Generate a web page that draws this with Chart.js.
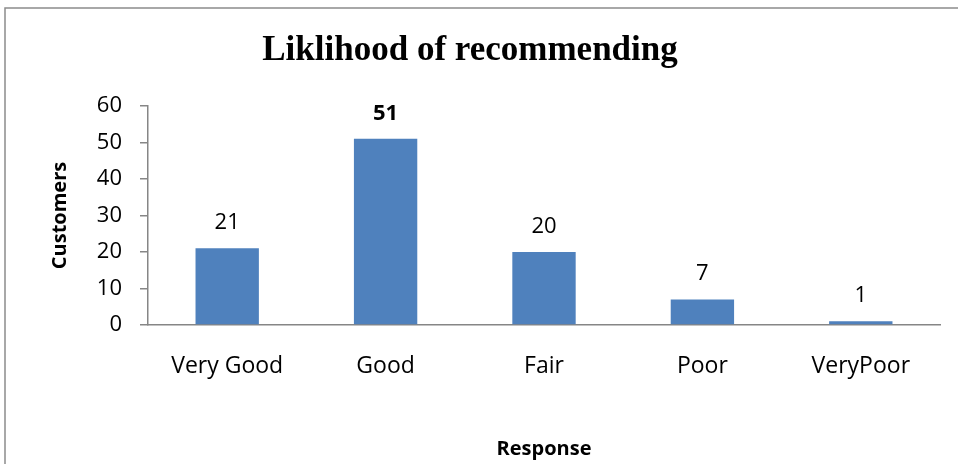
<!DOCTYPE html>
<html>
<head>
<meta charset="utf-8">
<script src="https://cdn.jsdelivr.net/npm/chart.js@4"></script>
<style>
  html, body { margin: 0; padding: 0; background: #fff; }
  canvas { display: block; }
</style>
</head>
<body>
<canvas id="chart" width="958" height="464"></canvas>
<script>
const responses = ["Very Good", "Good", "Fair", "Poor", "VeryPoor"];
const customers = [21, 51, 20, 7, 1];
const yTicks = [0, 10, 20, 30, 40, 50, 60];

Chart.defaults.font.family = "'Open Sans', 'Noto Sans', sans-serif";
Chart.defaults.color = "#000";

// frame round the chart (the chart sits inside a document box)
const frame = {
  id: "frame",
  beforeDraw(chart) {
    const ctx = chart.ctx;
    ctx.save();
    ctx.fillStyle = "#fff";
    ctx.fillRect(0, 0, chart.width, chart.height);
    ctx.strokeStyle = "#8c8c8c";
    ctx.lineWidth = 1.5;
    ctx.strokeRect(5, 8, chart.width + 20, chart.height + 20);
    ctx.restore();
  }
};

// value labels above bars, the biggest one in bold
const barLabels = {
  id: "barLabels",
  afterDatasetsDraw(chart) {
    const ctx = chart.ctx;
    const meta = chart.getDatasetMeta(0);
    const values = chart.data.datasets[0].data;
    const top = Math.max(...values);
    ctx.save();
    ctx.fillStyle = "#000";
    ctx.textAlign = "center";
    ctx.textBaseline = "alphabetic";
    meta.data.forEach((bar, i) => {
      ctx.font = (values[i] === top ? "bold " : "") + "22px 'Open Sans', sans-serif";
      ctx.fillText(values[i], bar.x, bar.y - 19);
    });
    ctx.restore();
  }
};

new Chart(document.getElementById("chart"), {
  type: "bar",
  data: {
    labels: responses,
    datasets: [{
      data: customers,
      backgroundColor: "#4F81BD",
      categoryPercentage: 1,
      barPercentage: 0.4
    }]
  },
  options: {
    responsive: false,
    animation: false,
    layout: { padding: { top: 0, left: 0, right: 18, bottom: 0 } },
    plugins: {
      legend: { display: false },
      tooltip: { enabled: false },
      title: {
        display: true,
        text: "Liklihood of recommending",
        color: "#000",
        font: { family: "'Liberation Serif', 'Times New Roman', serif", size: 35, weight: "bold" },
        padding: { top: 30, bottom: 34 }
      }
    },
    scales: {
      x: {
        grid: { display: false, drawTicks: false },
        border: { display: true, color: "#868686", width: 1.5 },
        ticks: { font: { size: 23 }, padding: 28, color: "#000" },
        title: {
          display: true,
          text: "Response",
          font: { size: 20, weight: "bold" },
          padding: { bottom: 3 }
        },
        afterFit(scale) { scale.height = 139; }
      },
      y: {
        min: 0,
        max: 60,
        afterBuildTicks(scale) { scale.ticks = yTicks.map(v => ({ value: v })); },
        grid: { drawOnChartArea: false, drawTicks: true, tickLength: 8, color: "#868686", lineWidth: 1.5 },
        border: { display: true, color: "#868686", width: 1.5 },
        ticks: { font: { size: 22 }, padding: 18, color: "#000" },
        title: {
          display: true,
          text: "Customers",
          font: { size: 20, weight: "bold" },
          padding: { top: 48 }
        },
        afterFit(scale) { scale.width = 148; }
      }
    }
  },
  plugins: [frame, barLabels]
});
</script>
</body>
</html>
